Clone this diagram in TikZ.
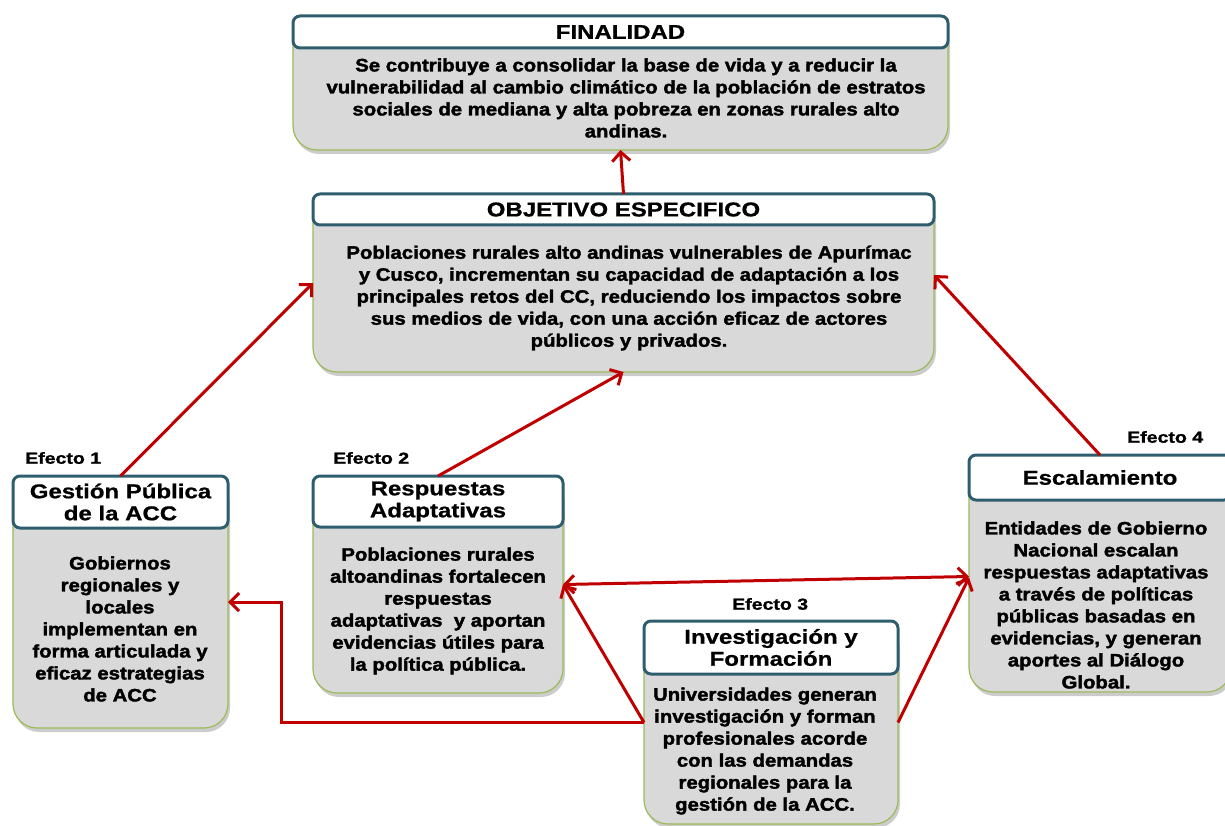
\documentclass[tikz,border=0pt]{standalone}
\usepackage{fontspec}
\setmainfont{Liberation Sans}
\newfontfamily\bodyfont{Liberation Sans Bold}[FakeStretch=1.13,FakeBold=2]
\newfontfamily\hdrfont{Liberation Sans Bold}[FakeStretch=1.2,FakeBold=0.8]
\newfontfamily\lblfont{Liberation Sans Bold}[FakeStretch=1.22,FakeBold=1.2]
\usetikzlibrary{arrows.meta,shadows}
\definecolor{hdr}{HTML}{2E5E6E}
\definecolor{bodyfill}{HTML}{D9D9D9}
\definecolor{bodyline}{HTML}{9BBB59}
\definecolor{arr}{HTML}{C00000}
\tikzset{
 bodybox/.style={draw=bodyline, line width=1.2pt, fill=bodyfill, rounded corners=24pt, anchor=north west, inner sep=0pt, outer sep=0pt,
   drop shadow={opacity=0.4, shadow xshift=2pt, shadow yshift=-4pt}},
 hdrbox/.style={draw=hdr, line width=3pt, fill=white, rounded corners=7pt, anchor=north west, inner sep=0pt, outer sep=0pt, align=center,
   font=\fontsize{20}{22}\selectfont\hdrfont},
 bodytext/.style={align=center, font=\fontsize{18}{22}\selectfont\bodyfont, inner sep=0pt},
 efecto/.style={font=\fontsize{16}{18}\selectfont\lblfont, inner sep=0pt, anchor=west},
 link/.style={draw=arr, line width=3pt, -{Straight Barb[length=9pt,width=18pt]}},
 dlink/.style={draw=arr, line width=3pt, {Straight Barb[length=9pt,width=18pt]}-{Straight Barb[length=9pt,width=18pt]}},
}
\begin{document}
\begin{tikzpicture}[x=1pt,y=-1pt]
\useasboundingbox (0,0) rectangle (1225,826);
\clip (0,0) rectangle (1225,826);
% FINALIDAD
\node[bodybox, minimum width=655pt, minimum height=133pt] (Fb) at (293,17) {};
\node[hdrbox, minimum width=655pt, minimum height=32pt] (Fh) at (293,16) {FINALIDAD};
\node[bodytext] (Ft) at (626,98) {Se contribuye a consolidar la base de vida y a reducir la\\vulnerabilidad al cambio climático de la población de estratos\\sociales de mediana y alta pobreza en zonas rurales alto\\andinas.};
% OBJETIVO
\node[bodybox, minimum width=621pt, minimum height=178pt] (Ob) at (313,194) {};
\node[hdrbox, minimum width=621pt, minimum height=31pt] (Oh) at (313,194) {OBJETIVO ESPECIFICO};
\node[bodytext] (Ot) at (629,298) {Poblaciones rurales alto andinas vulnerables de Apurímac\\y Cusco, incrementan su capacidad de adaptación a los\\principales retos del CC, reduciendo los impactos sobre\\sus medios de vida, con una acción eficaz de actores\\públicos y privados.};
% Efecto 1
\node[bodybox, minimum width=215pt, minimum height=252pt] (E1b) at (13,476) {};
\node[hdrbox, minimum width=215pt, minimum height=52pt] (E1h) at (13,476) {Gestión Pública\\de la ACC};
\node[bodytext] (E1t) at (120,629) {Gobiernos\\regionales y\\locales\\implementan en\\forma articulada y\\eficaz estrategias\\de ACC};
\node[efecto] (E1l) at (25,458) {Efecto 1};
% Efecto 2
\node[bodybox, minimum width=250pt, minimum height=217pt] (E2b) at (313,476) {};
\node[hdrbox, minimum width=250pt, minimum height=51pt] (E2h) at (313,476) {Respuestas\\Adaptativas};
\node[bodytext] (E2t) at (438,611) {Poblaciones rurales\\altoandinas fortalecen\\respuestas\\adaptativas \ y aportan\\evidencias útiles para\\la política pública.};
\node[efecto] (E2l) at (333,458) {Efecto 2};
% Efecto 3
\node[bodybox, minimum width=254pt, minimum height=203pt] (E3b) at (644,621) {};
\node[hdrbox, minimum width=254pt, minimum height=53pt] (E3h) at (644,621) {Investigación y\\Formación};
\node[bodytext] (E3t) at (765,751) {Universidades generan\\investigación y forman\\profesionales acorde\\con las demandas\\regionales para la\\gestión de la ACC.};
\node[efecto] (E3l) at (732,604) {Efecto 3};
% Efecto 4
\node[bodybox, minimum width=262pt, minimum height=237pt] (E4b) at (969,455) {};
\node[hdrbox, minimum width=262pt, minimum height=45pt] (E4h) at (969,455) {Escalamiento};
\node[bodytext] (E4t) at (1096,605) {Entidades de Gobierno\\Nacional escalan\\respuestas adaptativas\\a través de políticas\\públicas basadas en\\evidencias, y generan\\aportes al Diálogo\\Global.};
\node[efecto] (E4l) at (1127,437) {Efecto 4};
% connectors
\coordinate (bend) at (281,602);
\draw[link] (Oh.north) -- (Fb.south);
\draw[link] (E1h.north) -- (Ob.west);
\draw[link] (E2h.north) -- (Ob.south);
\draw[link] (E4h.north) -- ([yshift=8pt]Ob.east);
\draw[dlink] (E2b.east) -- ([yshift=-3pt]E4b.west);
\draw[link] (E3b.west) -- (E2b.east);
\draw[link] (E3b.west) -| (bend) -- (E1b.east |- bend);
\draw[link] (E3b.east) -- ([yshift=-4pt]E4b.west);
\end{tikzpicture}
\end{document}
